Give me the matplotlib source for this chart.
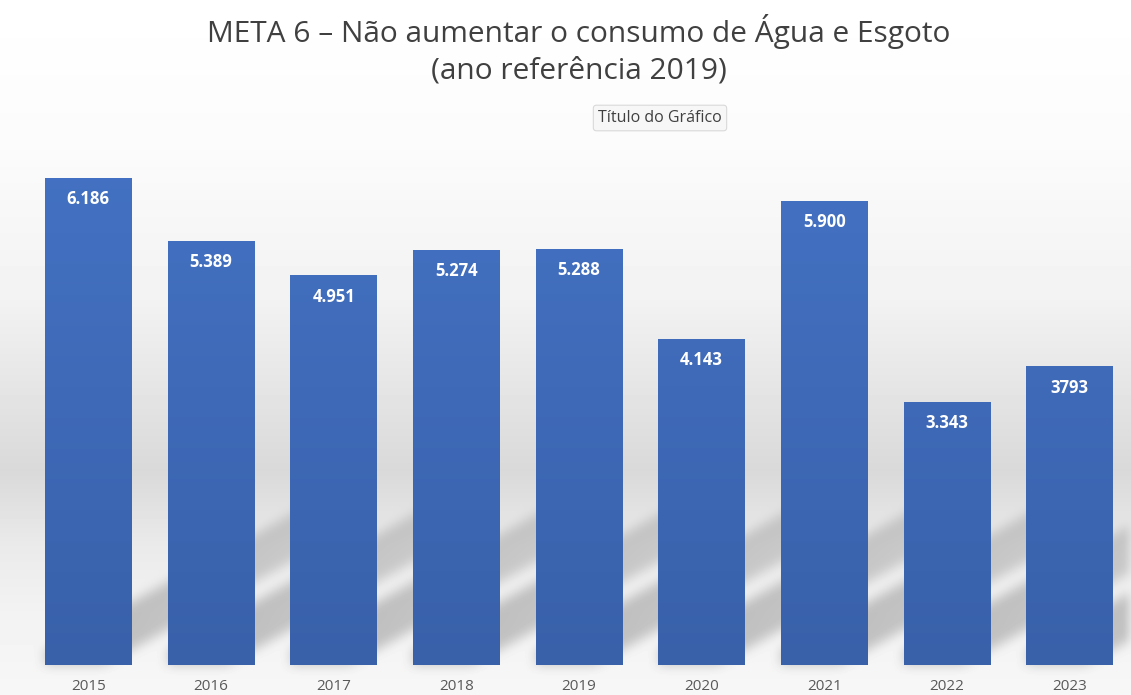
import numpy as np
import matplotlib
matplotlib.use("Agg")
import matplotlib.pyplot as plt
from matplotlib.colors import LinearSegmentedColormap

# -----------------------------
# Data
# -----------------------------
years = ["2015", "2016", "2017", "2018", "2019", "2020", "2021", "2022", "2023"]
consumo = [6186, 5389, 4951, 5274, 5288, 4143, 5900, 3343, 3793]
rotulos = ["6.186", "5.389", "4.951", "5.274", "5.288", "4.143", "5.900", "3.343", "3793"]

titulo = "META 6 – Não aumentar o consumo de Água e Esgoto\n(ano referência 2019)"
legenda = "Título do Gráfico"

W, H = 1131, 695
plt.rcParams["font.family"] = ["Open Sans", "DejaVu Sans"]

fig = plt.figure(figsize=(W / 100, H / 100), dpi=100)

# -----------------------------
# Background gradient (figure pixels)
# -----------------------------
ys = np.arange(H)
stops_y = [0, 150, 300, 470, 545, 610, 695]
stops_v = [255, 251, 242, 217, 234, 242, 247]
col = np.interp(ys, stops_y, stops_v) / 255.0
bg = np.repeat(col[:, None], W, axis=1)

# axes geometry in pixels
ax_left, ax_right = 27, 1131
ax_bottom_px, ax_top_px = 30, 555  # measured from the bottom of the figure
ymax = 6670
x0, x1 = -0.5, len(years) - 0.5
bar_w = 0.707

def to_px(xd):
    return ax_left + (xd - x0) / (x1 - x0) * (ax_right - ax_left)

# soft diagonal shadows cast by each bar on the "floor"
shadow = np.zeros((H, W))
X, Yb = np.meshgrid(np.arange(W), np.arange(H)[::-1])  # Yb = pixels from bottom
slope = 0.55
for i in range(len(years)):
    xl = to_px(i - bar_w / 2)
    xr = to_px(i + bar_w / 2)
    base = ax_bottom_px + 15
    lower = base + slope * (X - xr)
    upper = base + slope * (X - xl)
    m = (Yb >= lower) & (Yb <= upper) & (X >= xl) & (X <= xr + 190) & (Yb >= ax_bottom_px)
    fade = np.clip(1 - (X - xr) / 190.0, 0, 1)
    shadow = np.maximum(shadow, m * (0.6 + 0.4 * fade))

# box blur
def blur(a, r):
    k = np.ones(2 * r + 1) / (2 * r + 1)
    a = np.apply_along_axis(lambda v: np.convolve(v, k, mode="same"), 0, a)
    a = np.apply_along_axis(lambda v: np.convolve(v, k, mode="same"), 1, a)
    return a

shadow = blur(blur(shadow, 6), 6)
bg = bg - 0.2 * shadow

bg_ax = fig.add_axes([0, 0, 1, 1])
bg_ax.imshow(bg, cmap="gray", vmin=0, vmax=1, aspect="auto", extent=[0, W, 0, H])
bg_ax.axis("off")

# -----------------------------
# Bars
# -----------------------------
ax = fig.add_axes([ax_left / W, ax_bottom_px / H, (ax_right - ax_left) / W,
                   (ax_top_px - ax_bottom_px) / H])
ax.patch.set_alpha(0)
x = np.arange(len(years))
bars = ax.bar(x, consumo, width=bar_w, color="#4270C0", zorder=2)

grad = np.linspace(0, 1, 256)[:, None]
cmap = LinearSegmentedColormap.from_list("barra", ["#3961AA", "#4472C4"])
for b in bars:
    im = ax.imshow(grad, cmap=cmap, aspect="auto", origin="lower",
                   extent=[b.get_x(), b.get_x() + b.get_width(), 0, ymax], zorder=3)
    im.set_clip_path(b)

for xi, v, lab in zip(x, consumo, rotulos):
    ax.text(xi, v - 270, lab, ha="center", va="center", color="white",
            fontsize=12, fontweight="bold", zorder=4)

ax.set_xlim(x0, x1)
ax.set_ylim(0, ymax)
ax.set_xticks(x)
ax.set_xticklabels(years, fontsize=11, color="#595959")
ax.tick_params(axis="x", length=0, pad=10)
ax.set_yticks([])
for s in ax.spines.values():
    s.set_visible(False)

# -----------------------------
# Title and legend box
# -----------------------------
fig.text(0.512, 1 - 50 / H, titulo, ha="center", va="center", fontsize=21.5,
         color="#404040", linespacing=1.35)
fig.text(660 / W, 1 - 118 / H, legenda, ha="center", va="center", fontsize=11.5,
         color="#404040",
         bbox=dict(boxstyle="round,pad=0.3,rounding_size=0.2", fc="#F7F7F7",
                   ec="#D9D9D9", lw=0.8))

fig.savefig("out.png", dpi=100)
